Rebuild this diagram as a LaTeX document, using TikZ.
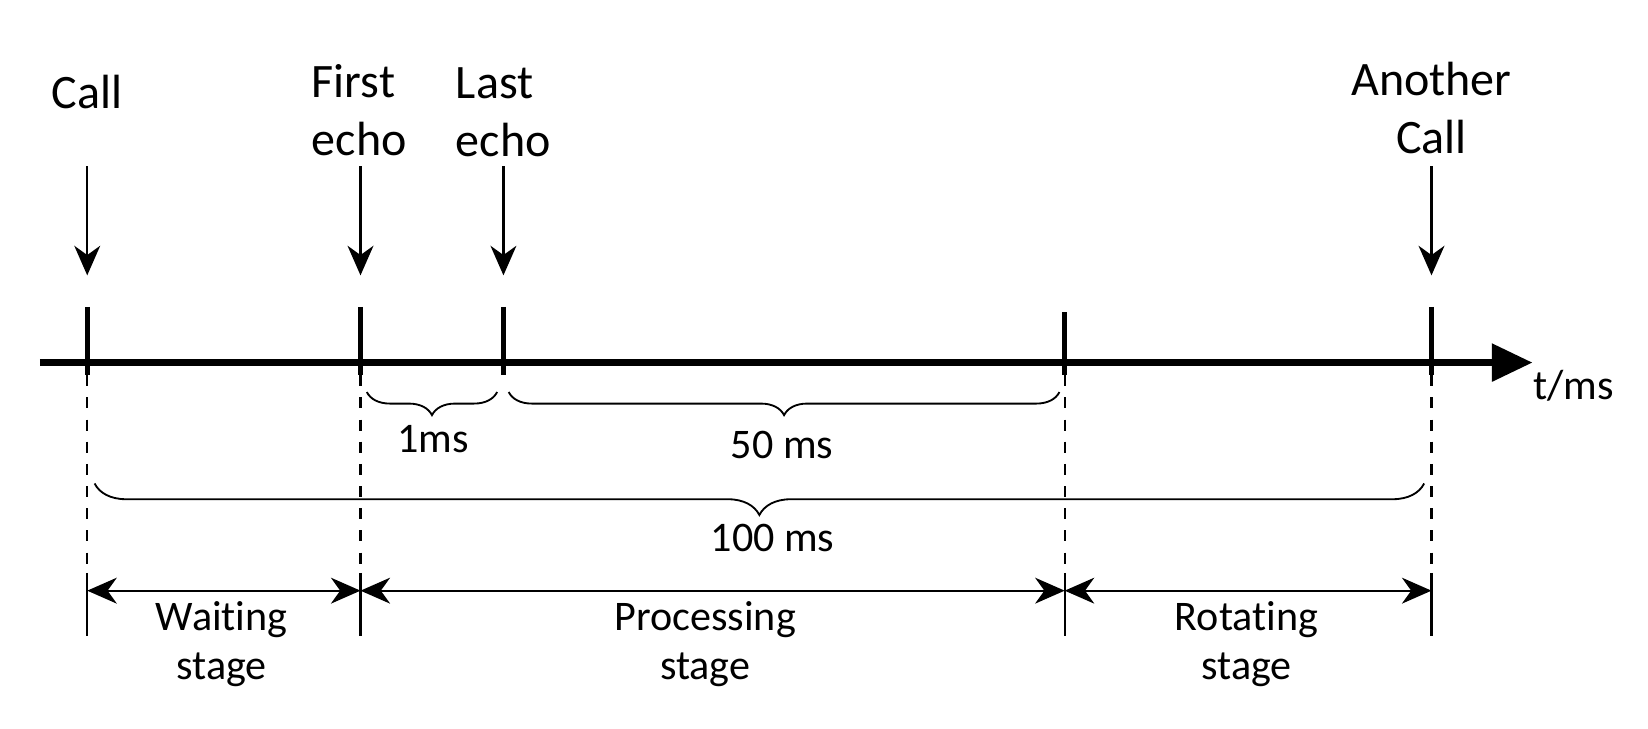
\documentclass[tikz,border=0pt]{standalone}
\usepackage{fontspec}
\setmainfont[Ligatures=NoCommon]{Carlito}
\usetikzlibrary{arrows.meta,decorations.pathreplacing}
\begin{document}
\begin{tikzpicture}[>={Stealth[length=8pt,width=7pt,inset=2.5pt]},
  axisline/.style={line width=1.7pt,-{Triangle[length=11pt,width=10pt]}},
  tickmark/.style={line width=1.4pt},
  thinline/.style={line width=0.6pt},
  bracedown/.style={line width=0.5pt,decorate,decoration={brace,mirror,amplitude=#1}},
  biglabel/.style={align=center,font=\fontsize{13}{15.6}\selectfont},
  smalllabel/.style={align=center,font=\fontsize{11.4}{13.4}\selectfont}]
\useasboundingbox (0,0) rectangle (15.68,6.93);
\path
(0.83,3.48) coordinate (t0)
(3.43,3.48) coordinate (t1)
(4.79,3.48) coordinate (t2)
(10.13,3.48) coordinate (t3)
(13.62,3.48) coordinate (t4);
% time axis
\draw[axisline](0.38,3.48) coordinate (start)--(14.58,3.48) coordinate (end);
\node[smalllabel] (tms) at (14.97,3.26) {t/ms};
\foreach \t in {t0,t1,t2,t4}
  \draw[tickmark]([yshift=0.53cm]\t)--([yshift=-0.12cm]\t);
\draw[tickmark]([yshift=0.48cm]t3)--([yshift=-0.12cm]t3);
% events
\node[biglabel] (call) at (0.83,6.05) {Call};
\node[biglabel,align=left,anchor=west,inner sep=0pt] (first) at (2.96,5.88) {First\\echo};
\node[biglabel,align=left,anchor=west,inner sep=0pt] (last) at (4.33,5.86) {Last\\echo};
\node[biglabel] (another) at (13.62,5.90) {Another\\Call};
\foreach \t in {t0,t1,t2,t4}
  \draw[thinline,->]([yshift=1.87cm]\t)--([yshift=0.83cm]\t);
% braces
\draw[bracedown=0.22cm](3.49,3.20)--(4.73,3.20);
\node[smalllabel] (one) at (4.12,2.75) {1ms};
\draw[bracedown=0.22cm](4.84,3.20)--(10.08,3.20);
\node[smalllabel] (fifty) at (7.44,2.70) {50 ms};
\draw[bracedown=0.3cm](0.90,2.33)--(13.55,2.33);
\node[smalllabel] (hundred) at (7.35,1.81) {100 ms};
% stages
\foreach \t in {t0,t1,t3,t4}{
  \draw[thinline,dashed]([yshift=-0.12cm]\t)--(\t|-0,1.48);
  \draw[thinline](\t|-0,1.48)--(\t|-0,0.88);
  \path (\t|-0,1.31) coordinate (d\t);
}
\draw[thinline,<->](dt0)--(dt1);
\draw[thinline,<->](dt1)--(dt3);
\draw[thinline,<->](dt3)--(dt4);
\node[smalllabel] (wait) at (2.11,0.80) {Waiting\\stage};
\node[smalllabel] (proc) at (6.71,0.80) {Processing\\stage};
\node[smalllabel] (rot) at (11.86,0.80) {Rotating\\stage};
\end{tikzpicture}
\end{document}
